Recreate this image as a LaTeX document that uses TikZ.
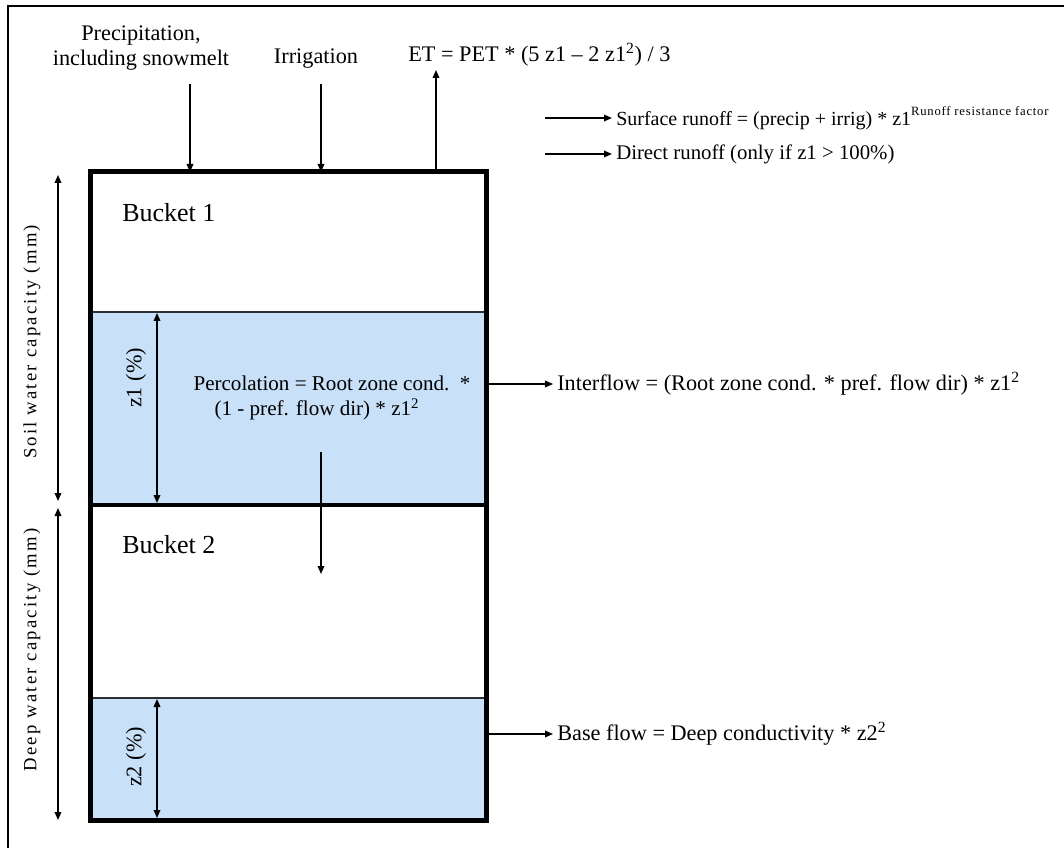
\documentclass[tikz,border=0pt]{standalone}
\usepackage{fontspec}
\setmainfont{Liberation Serif}
\usetikzlibrary{arrows.meta, positioning}
\definecolor{WaterBlue}{RGB}{200,224,248}
\definecolor{EdgeGray}{RGB}{45,45,50}

\tikzset{
  flow/.style={-{Triangle[length=6pt,width=5pt]}, line width=0.9pt},
  dimline/.style={{Triangle[length=6pt,width=5pt]}-{Triangle[length=6pt,width=5pt]}, line width=0.9pt},
  lbl/.style={font=\fontsize{16.7}{18.75}\selectfont, inner sep=0pt},
  bucketlbl/.style={font=\fontsize{19.5}{22}\selectfont, inner sep=0pt, anchor=base west},
  sidelbl/.style={font=\fontsize{14}{16}\selectfont\addfontfeature{LetterSpace=12}, inner sep=0pt, rotate=90},
  outlbl/.style={lbl, anchor=west, inner sep=3pt}
}

\newcommand{\runoffexp}{\raisebox{0.5em}{\fontsize{9.5}{10}\selectfont\addfontfeature{LetterSpace=6}Runoff resistance factor}}

\begin{document}
\begin{tikzpicture}[x=0.75pt, y=-0.75pt]
  \useasboundingbox (0,0) rectangle (1064,848);
  \fill[white] (0,0) rectangle (1064,848);

  % page frame (only top and left show)
  \draw[line width=1.9pt] (8,848) -- (8,6) -- (1064,6);

  % bucket corners
  \coordinate (b1nw) at (90,172);
  \coordinate (b1se) at (486,505);
  \coordinate (b2se) at (486,820);
  \coordinate (lvl1) at (90,312);
  \coordinate (lvl2) at (90,698);

  % water in the buckets
  \fill[WaterBlue] (lvl1) rectangle (b1se);
  \fill[WaterBlue] (lvl2) rectangle (b2se);
  \draw[line width=1.5pt, EdgeGray] (lvl1) -- (lvl1 -| b1se);
  \draw[line width=1.5pt, EdgeGray] (lvl2) -- (lvl2 -| b2se);

  % buckets
  \draw[line width=3.75pt, line join=miter] (b1nw) rectangle (b2se);
  \draw[line width=3pt] (b1nw |- b1se) -- (b1se);

  \node[bucketlbl] (bucket1) at (122,222) {Bucket 1};
  \node[bucketlbl] (bucket2) at (122,553) {Bucket 2};

  % inputs on top
  \node[lbl, align=center] (precip) at (141,48) {Precipitation,\\including snowmelt};
  \node[lbl, anchor=base] (irrig) at (316,64) {Irrigation};
  \node[lbl, anchor=base west] (et) at (408,62) {ET = PET * (5 z1 -- 2 z1\textsuperscript{2}) / 3};

  \coordinate (precipin) at (190,84);
  \coordinate (irrigin) at (321,84);
  \coordinate (etout) at (436,70);
  \draw[flow] (precipin) -- (precipin |- b1nw);
  \draw[flow] (irrigin) -- (irrigin |- b1nw);
  \draw[flow] (etout |- b1nw) -- (etout);

  % runoff
  \node[outlbl, font=\fontsize{15}{18}\selectfont] (surface) at (612,118) {Surface runoff = (precip + irrig) * z1\runoffexp};
  \node[outlbl, font=\fontsize{15.6}{18}\selectfont] (direct) at (612,154) {Direct runoff (only if z1 > 100\%)};
  \coordinate (surfstart) at (545,118);
  \coordinate (directstart) at (545,154);
  \draw[flow] (surfstart) -- (surface.west);
  \draw[flow] (directstart) -- (direct.west);

  % percolation
  \node[lbl, align=left, font=\fontsize{15.8}{18.75}\selectfont] (perc) at (332,398) {Percolation = Root zone cond.\ \ *\\\hspace*{1em}(1 - pref. flow dir) * z1\textsuperscript{2}};
  \coordinate (percstart) at (321,452);
  \coordinate (percend) at (321,574);
  \draw[flow] (percstart) -- (percend);

  % lateral outflows
  \node[outlbl] (interflow) at (553,384) {Interflow = (Root zone cond. * pref. flow dir) * z1\textsuperscript{2}};
  \node[outlbl] (baseflow) at (553,734) {Base flow = Deep conductivity * z2\textsuperscript{2}};
  \draw[flow] (interflow.west -| b1se) -- (interflow.west);
  \draw[flow] (baseflow.west -| b2se) -- (baseflow.west);

  % capacities
  \coordinate (soiltop) at (58,175);
  \coordinate (soilbot) at (58,501);
  \coordinate (deeptop) at (58,508);
  \coordinate (deepbot) at (58,820);
  \draw[dimline] (soiltop) -- (soilbot);
  \draw[dimline] (deeptop) -- (deepbot);
  \node[sidelbl] (soilcap) at (32,342) {Soil water capacity (mm)};
  \node[sidelbl] (deepcap) at (32,650) {Deep water capacity (mm)};

  % water levels
  \coordinate (z1top) at (157,313);
  \coordinate (z1bot) at (157,503);
  \coordinate (z2top) at (157,699);
  \coordinate (z2bot) at (157,818);
  \draw[dimline] (z1top) -- (z1bot);
  \draw[dimline] (z2top) -- (z2bot);
  \node[lbl, rotate=90] (z1lbl) at (136,378) {z1 (\%)};
  \node[lbl, rotate=90] (z2lbl) at (136,757) {z2 (\%)};
\end{tikzpicture}
\end{document}
